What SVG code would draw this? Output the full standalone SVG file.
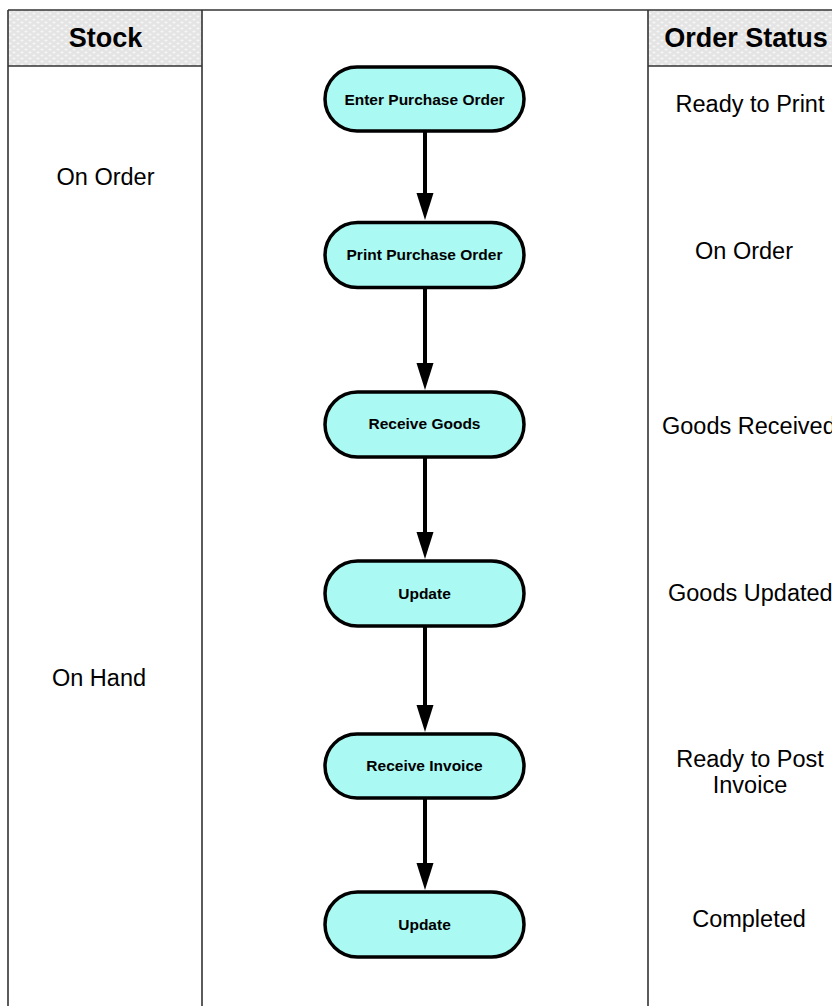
<svg xmlns="http://www.w3.org/2000/svg" width="832" height="1006" viewBox="0 0 832 1006">
  <defs>
    <!-- light dotted texture used by the lane headers -->
    <pattern id="dots" width="8" height="6" patternUnits="userSpaceOnUse">
      <rect width="8" height="6" fill="#e4e4e4"/>
      <ellipse cx="2" cy="1.5" rx="1.6" ry="0.9" fill="#f6f6f6"/>
      <ellipse cx="6" cy="4.5" rx="1.6" ry="0.9" fill="#f6f6f6"/>
    </pattern>
    <style>
      .hdr { fill: url(#dots); }
      .border { stroke: #333; stroke-width: 1.6; fill: none; }
      .htext { font-family: "Liberation Sans", Arial, sans-serif; font-weight: bold; font-size: 27px; fill: #000; text-anchor: middle; }
      .ltext { font-family: "Liberation Sans", Arial, sans-serif; font-size: 23.5px; fill: #000; text-anchor: middle; }
      .node rect { fill: #abf9f3; stroke: #000; stroke-width: 3.5; }
      .node text { font-family: "Liberation Sans", Arial, sans-serif; font-weight: bold; font-size: 15.5px; fill: #000; text-anchor: middle; }
      .conn line { stroke: #000; stroke-width: 4; fill: none; }
      .conn polygon { fill: #000; }
    </style>
  </defs>

  <!-- swimlanes -->
  <g id="lanes">
    <rect class="hdr" x="8" y="10" width="194" height="56"/>
    <rect class="hdr" x="648" y="10" width="184" height="56"/>
    <line class="border" x1="8" y1="10" x2="832" y2="10"/>
    <line class="border" x1="8" y1="10" x2="8" y2="1006"/>
    <line class="border" x1="202" y1="10" x2="202" y2="1006" stroke="#111" stroke-width="2"/>
    <line class="border" x1="648" y1="10" x2="648" y2="1006"/>
    <line class="border" x1="8" y1="66" x2="202" y2="66"/>
    <line class="border" x1="648" y1="66" x2="832" y2="66"/>
    <text class="htext" x="105.5" y="47">Stock</text>
    <text class="htext" x="746" y="47">Order Status</text>
  </g>

  <!-- lane labels -->
  <g id="stock-labels">
    <text class="ltext" x="105.5" y="185">On Order</text>
    <text class="ltext" x="99" y="686">On Hand</text>
  </g>
  <g id="status-labels">
    <text class="ltext" x="750" y="112">Ready to Print</text>
    <text class="ltext" x="744" y="259">On Order</text>
    <text class="ltext" x="662" y="434" style="text-anchor:start">Goods Received</text>
    <text class="ltext" x="668" y="601" style="text-anchor:start">Goods Updated</text>
    <text class="ltext" x="750" y="767">Ready to Post</text>
    <text class="ltext" x="750" y="793">Invoice</text>
    <text class="ltext" x="749" y="927">Completed</text>
  </g>

  <!-- connectors -->
  <g id="connectors" class="conn">
    <line x1="425" y1="132" x2="425" y2="195"/>
    <polygon points="416.5,193 433.5,193 425,220"/>
    <line x1="425" y1="288" x2="425" y2="365"/>
    <polygon points="416.5,363 433.5,363 425,390"/>
    <line x1="425" y1="457" x2="425" y2="534"/>
    <polygon points="416.5,532 433.5,532 425,559"/>
    <line x1="425" y1="626" x2="425" y2="707"/>
    <polygon points="416.5,705 433.5,705 425,732"/>
    <line x1="425" y1="798" x2="425" y2="865"/>
    <polygon points="416.5,863 433.5,863 425,890"/>
  </g>

  <!-- process steps -->
  <g id="enter-po" class="node">
    <rect x="325" y="67" width="199" height="64" rx="32"/>
    <text x="424.5" y="104.5">Enter Purchase Order</text>
  </g>
  <g id="print-po" class="node">
    <rect x="325" y="222.5" width="199" height="65" rx="32.5"/>
    <text x="424.5" y="260">Print Purchase Order</text>
  </g>
  <g id="receive-goods" class="node">
    <rect x="325" y="392" width="199" height="65" rx="32.5"/>
    <text x="424.5" y="429">Receive Goods</text>
  </g>
  <g id="update-goods" class="node">
    <rect x="325" y="561" width="199" height="65" rx="32.5"/>
    <text x="424.5" y="598.5">Update</text>
  </g>
  <g id="receive-invoice" class="node">
    <rect x="325" y="734" width="199" height="64" rx="32"/>
    <text x="424.5" y="771">Receive Invoice</text>
  </g>
  <g id="update-invoice" class="node">
    <rect x="325" y="892" width="199" height="65" rx="32.5"/>
    <text x="424.5" y="929.5">Update</text>
  </g>
</svg>
